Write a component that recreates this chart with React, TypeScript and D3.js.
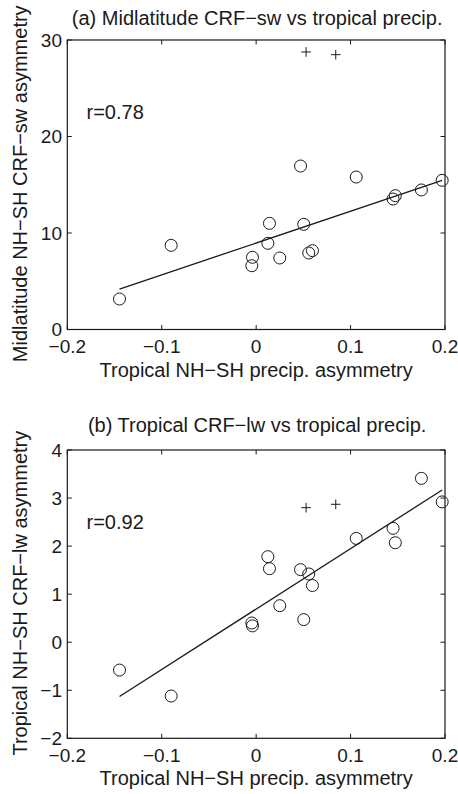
import React from "react";
import * as d3 from "d3";

// ---- data ----
const modelPrecip = [-0.1447, -0.09, -0.0039, -0.0046, 0.0141, 0.0124, 0.025, 0.0504, 0.0557, 0.0596, 0.106, 0.145, 0.1474, 0.175, 0.197, 0.047];
const modelCrfSw = [3.16, 8.72, 7.48, 6.61, 11.0, 8.93, 7.41, 10.9, 7.93, 8.17, 15.8, 13.52, 13.87, 14.46, 15.46, 16.94];
const modelCrfLw = [-0.58, -1.12, 0.34, 0.4, 1.53, 1.78, 0.76, 0.47, 1.42, 1.18, 2.16, 2.37, 2.07, 3.41, 2.92, 1.51];
const obsPrecip = [0.0529, 0.0843];
const obsCrfSw = [28.76, 28.48];
const obsCrfLw = [2.8, 2.87];
const fitSw = [8.96, 32.95]; // intercept, slope
const fitLw = [0.69, 12.58];
const xTicks = [-0.2, -0.1, 0, 0.1, 0.2];
const yTicksSw = [0, 10, 20, 30];
const yTicksLw = [-2, -1, 0, 1, 2, 3, 4];

const FONT = "'Liberation Sans', Arial, Helvetica, sans-serif";
const INK = "#1a1a1a";
const FS = 20;
const TFS = 19;

const fmt = (v: number) => (v < 0 ? "\u2212" + String(Math.abs(v)) : String(v));

interface PanelProps {
  top: number;
  bottom: number;
  titleY: number;
  yDomain: [number, number];
  yTicks: number[];
  ys: number[];
  obsYs: number[];
  fit: number[];
  title: string;
  yLabel: string;
  rText: string;
}

function Panel(p: PanelProps) {
  const left = 67.3;
  const right = 445;
  const x = d3.scaleLinear().domain([-0.2, 0.2]).range([left, right]);
  const y = d3.scaleLinear().domain(p.yDomain).range([p.bottom, p.top]);
  const tl = 4.5;
  const xMin = d3.min(modelPrecip) as number;
  const xMax = d3.max(modelPrecip) as number;
  const line = d3
    .line<number>()
    .x((d) => x(d))
    .y((d) => y(p.fit[0] + p.fit[1] * d));
  const cross = 4.8;
  const cy = (p.top + p.bottom) / 2;
  return (
    <g>
      <text x={(left + right) / 2 + 1} y={p.titleY} textAnchor="middle" fontSize={FS} fill={INK}>
        {p.title}
      </text>
      <text
        transform={`translate(20,${cy - 1}) rotate(-90)`}
        textAnchor="middle"
        dominantBaseline="central"
        fontSize={FS}
        fill={INK}
      >
        {p.yLabel}
      </text>
      <text x={x(0)} y={p.bottom + 47} textAnchor="middle" fontSize={FS} fill={INK}>
        Tropical NH{"\u2212"}SH precip. asymmetry
      </text>
      <text x={86.5} y={p.top + 0.252 * (p.bottom - p.top) + 6.5} fontSize={FS} fill={INK}>
        {p.rText}
      </text>
      {/* ticks */}
      {xTicks.map((t) => (
        <g key={"x" + t}>
          <line x1={x(t)} x2={x(t)} y1={p.bottom} y2={p.bottom - tl} stroke={INK} />
          <line x1={x(t)} x2={x(t)} y1={p.top} y2={p.top + tl} stroke={INK} />
          <text x={x(t)} y={p.bottom + 23.5} textAnchor="middle" fontSize={TFS} fill={INK}>
            {fmt(t)}
          </text>
        </g>
      ))}
      {p.yTicks.map((t) => (
        <g key={"y" + t}>
          <line x1={left} x2={left + tl} y1={y(t)} y2={y(t)} stroke={INK} />
          <line x1={right} x2={right - tl} y1={y(t)} y2={y(t)} stroke={INK} />
          <text x={62} y={y(t) + 6.5} textAnchor="end" fontSize={TFS} fill={INK}>
            {fmt(t)}
          </text>
        </g>
      ))}
      <rect x={left} y={p.top} width={right - left} height={p.bottom - p.top} fill="none" stroke={INK} strokeWidth={1.2} />
      <path d={line([xMin, xMax]) || ""} fill="none" stroke={INK} strokeWidth={1.3} />
      {modelPrecip.map((v, i) => (
        <circle key={"c" + i} cx={x(v)} cy={y(p.ys[i])} r={6} fill="none" stroke={INK} strokeWidth={1} />
      ))}
      {obsPrecip.map((v, i) => (
        <g key={"o" + i}>
          <line x1={x(v) - cross} x2={x(v) + cross} y1={y(p.obsYs[i])} y2={y(p.obsYs[i])} stroke={INK} strokeWidth={1} />
          <line x1={x(v)} x2={x(v)} y1={y(p.obsYs[i]) - cross} y2={y(p.obsYs[i]) + cross} stroke={INK} strokeWidth={1} />
        </g>
      ))}
    </g>
  );
}

export default function App() {
  return (
    <svg
      width={458}
      height={794}
      style={{ position: "absolute", left: 0, top: 0, background: "#fff" }}
      fontFamily={FONT}
    >
      <rect width={458} height={794} fill="#fff" />
      <Panel
        top={40}
        bottom={329.5}
        titleY={25}
        yDomain={[0, 30]}
        yTicks={yTicksSw}
        ys={modelCrfSw}
        obsYs={obsCrfSw}
        fit={fitSw}
        title={"(a) Midlatitude CRF\u2212sw vs tropical precip."}
        yLabel={"Midlatitude NH\u2212SH CRF\u2212sw asymmetry"}
        rText="r=0.78"
      />
      <Panel
        top={450}
        bottom={738.3}
        titleY={432}
        yDomain={[-2, 4]}
        yTicks={yTicksLw}
        ys={modelCrfLw}
        obsYs={obsCrfLw}
        fit={fitLw}
        title={"(b) Tropical CRF\u2212lw vs tropical precip."}
        yLabel={"Tropical NH\u2212SH CRF\u2212lw asymmetry"}
        rText="r=0.92"
      />
    </svg>
  );
}
